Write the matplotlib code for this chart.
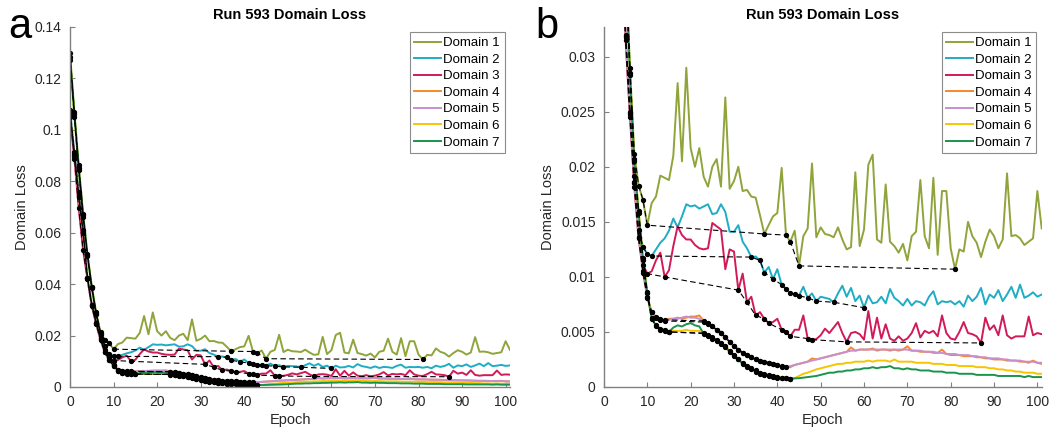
import numpy as np
import matplotlib
matplotlib.use("Agg")
import matplotlib.pyplot as plt

plt.rcParams['font.family'] = ['Liberation Sans', 'DejaVu Sans']

# epochs 0..101
epochs = np.arange(102)

domain1 = [0.1297, 0.1070, 0.0862, 0.0674, 0.0516, 0.0389, 0.0290, 0.0212, 0.0183, 0.0170,
           0.0147, 0.0167, 0.0173, 0.0192, 0.0190, 0.0188, 0.0210, 0.0276, 0.0205, 0.0290,
           0.0217, 0.0200, 0.0217, 0.0191, 0.0182, 0.0200, 0.0207, 0.0182, 0.0263, 0.0180,
           0.0187, 0.0200, 0.0178, 0.0179, 0.0173, 0.0172, 0.0156, 0.0139, 0.0147, 0.0155,
           0.0158, 0.0199, 0.0138, 0.0132, 0.0142, 0.0110, 0.0137, 0.0144, 0.0203, 0.0136,
           0.0145, 0.0139, 0.0138, 0.0136, 0.0145, 0.0134, 0.0125, 0.0127, 0.0195, 0.0128,
           0.0143, 0.0202, 0.0211, 0.0134, 0.0131, 0.0184, 0.0132, 0.0128, 0.0122, 0.0130,
           0.0115, 0.0137, 0.0141, 0.0188, 0.0137, 0.0126, 0.0190, 0.0120, 0.0178, 0.0178,
           0.0126, 0.0107, 0.0125, 0.0123, 0.0150, 0.0137, 0.0131, 0.0118, 0.0132, 0.0143,
           0.0137, 0.0126, 0.0134, 0.0194, 0.0137, 0.0138, 0.0135, 0.0129, 0.0132, 0.0135,
           0.0178, 0.0144]

domain2 = [0.1079, 0.0914, 0.0758, 0.0610, 0.0423, 0.0318, 0.0248, 0.0192, 0.0143, 0.0127,
           0.0121, 0.0119, 0.0125, 0.0131, 0.0135, 0.0142, 0.0153, 0.0145, 0.0155, 0.0166,
           0.0164, 0.0165, 0.0162, 0.0164, 0.0166, 0.0157, 0.0158, 0.0166, 0.0159, 0.0141,
           0.0141, 0.0147, 0.0132, 0.0126, 0.0118, 0.01185, 0.0115, 0.0104, 0.0109, 0.0098,
           0.0107, 0.0093, 0.0089, 0.0085, 0.00845, 0.0083, 0.0091, 0.0081, 0.0085, 0.0078,
           0.0082, 0.0081, 0.0080, 0.0077, 0.0085, 0.0092, 0.0082, 0.0090, 0.0078, 0.0083,
           0.0072, 0.0083, 0.0076, 0.0077, 0.0082, 0.0076, 0.0089, 0.0081, 0.0078, 0.0074,
           0.0080, 0.0074, 0.0078, 0.0077, 0.0074, 0.0082, 0.0087, 0.0075, 0.0078, 0.0077,
           0.0078, 0.0075, 0.0078, 0.0073, 0.0083, 0.0078, 0.0082, 0.0090, 0.0075, 0.0084,
           0.0081, 0.0088, 0.0078, 0.0084, 0.0091, 0.0081, 0.0093, 0.0081, 0.0083, 0.0086,
           0.0082, 0.0084]

domain3 = [0.1050, 0.0888, 0.0695, 0.0532, 0.0420, 0.0315, 0.0245, 0.0182, 0.0135, 0.0111,
           0.0103, 0.0105, 0.0115, 0.0122, 0.0100, 0.0106, 0.0128, 0.0146, 0.0138, 0.0134,
           0.0134, 0.0129, 0.0126, 0.0125, 0.0126, 0.0149, 0.0146, 0.0143, 0.0107, 0.0125,
           0.0123, 0.0088, 0.0103, 0.0077, 0.0082, 0.0065, 0.0068, 0.0062, 0.0058, 0.0059,
           0.0062, 0.0052, 0.0050, 0.0046, 0.0052, 0.0052, 0.0065, 0.0044, 0.0043, 0.00435,
           0.0047, 0.0053, 0.0049, 0.0054, 0.0059, 0.0049, 0.0041, 0.0049, 0.0050, 0.0048,
           0.0043, 0.0069, 0.0044, 0.0063, 0.0044, 0.0057, 0.0044, 0.0042, 0.0046, 0.0042,
           0.0044, 0.0049, 0.0058, 0.0045, 0.0051, 0.0049, 0.0051, 0.0046, 0.0065, 0.0049,
           0.0044, 0.0043, 0.0050, 0.0059, 0.0049, 0.0048, 0.0046, 0.0040, 0.0063, 0.0052,
           0.0056, 0.0047, 0.0065, 0.0047, 0.0044, 0.0046, 0.0046, 0.0046, 0.0064, 0.0047,
           0.0049, 0.0048]

domain4 = [0.1065, 0.0900, 0.0739, 0.0600, 0.0425, 0.0320, 0.0250, 0.0186, 0.0136, 0.0105,
           0.0082, 0.0068, 0.0064, 0.0062, 0.0061, 0.0062, 0.0062, 0.0063, 0.0062, 0.0063,
           0.0064, 0.0064, 0.0065, 0.0060, 0.0058, 0.0055, 0.0052, 0.0049, 0.0045, 0.0041,
           0.0037, 0.0034, 0.0031, 0.0029, 0.0027, 0.0025, 0.0024, 0.0023, 0.0022, 0.0021,
           0.0020, 0.0018, 0.0018, 0.0018, 0.0020, 0.0021, 0.0022, 0.0023, 0.0026, 0.0025,
           0.0026, 0.0027, 0.0028, 0.0029, 0.0030, 0.0031, 0.0032, 0.0036, 0.0033, 0.0034,
           0.0034, 0.0034, 0.0035, 0.0033, 0.0034, 0.0034, 0.0033, 0.0034, 0.0033, 0.0034,
           0.0037, 0.0033, 0.0033, 0.0032, 0.0032, 0.0032, 0.0031, 0.0031, 0.0034, 0.0030,
           0.0029, 0.0029, 0.0029, 0.0028, 0.0028, 0.0028, 0.0027, 0.0027, 0.0026, 0.0026,
           0.0025, 0.0025, 0.0025, 0.0024, 0.0024, 0.0024, 0.0023, 0.0023, 0.0022, 0.0024,
           0.0022, 0.0021]

domain5 = [0.1060, 0.0905, 0.0745, 0.0605, 0.0423, 0.0319, 0.0249, 0.0185, 0.0135, 0.0104,
           0.0081, 0.0068, 0.0063, 0.0061, 0.0060, 0.0061, 0.0062, 0.0062, 0.0063, 0.0064,
           0.0063, 0.0063, 0.0062, 0.0059, 0.0057, 0.0055, 0.0052, 0.0049, 0.0045, 0.0041,
           0.0037, 0.0034, 0.0031, 0.0029, 0.0027, 0.0025, 0.0024, 0.0023, 0.0022, 0.0021,
           0.0020, 0.0019, 0.00185, 0.0019, 0.0020, 0.0021, 0.0022, 0.0023, 0.0024, 0.0025,
           0.0026, 0.0027, 0.0028, 0.0029, 0.0030, 0.0031, 0.0032, 0.0033, 0.0033, 0.0034,
           0.0034, 0.0034, 0.0034, 0.0034, 0.0034, 0.0034, 0.0034, 0.0034, 0.0034, 0.0034,
           0.0034, 0.0033, 0.0033, 0.0033, 0.0032, 0.0032, 0.0032, 0.0031, 0.0031, 0.0030,
           0.0030, 0.0030, 0.0029, 0.0029, 0.0029, 0.0028, 0.0028, 0.0027, 0.0027, 0.0026,
           0.0026, 0.0026, 0.0025, 0.0025, 0.0024, 0.0024, 0.0024, 0.0023, 0.0023, 0.0023,
           0.0022, 0.0022]

domain6 = [0.1273, 0.1050, 0.0843, 0.0661, 0.0510, 0.0385, 0.0285, 0.0207, 0.0160, 0.0117,
           0.0086, 0.0063, 0.0055, 0.0052, 0.0051, 0.0050, 0.0051, 0.0051, 0.0051, 0.0052,
           0.0051, 0.0051, 0.0051, 0.0049, 0.0047, 0.0045, 0.0043, 0.0040, 0.0037, 0.0033,
           0.0029, 0.0025, 0.0022, 0.0019, 0.0017, 0.0015, 0.0013, 0.0012, 0.0011, 0.0010,
           0.0009, 0.00085, 0.0008, 0.00077, 0.0008, 0.0010, 0.0012, 0.0013, 0.00145, 0.0016,
           0.0017, 0.0018, 0.0019, 0.0020, 0.0021, 0.0021, 0.0022, 0.0022, 0.0023, 0.0023,
           0.0023, 0.0024, 0.0023, 0.0024, 0.0024, 0.0024, 0.0023, 0.0025, 0.0023, 0.0023,
           0.0023, 0.0023, 0.0022, 0.0022, 0.0022, 0.0022, 0.0021, 0.0021, 0.0021, 0.0020,
           0.0020, 0.0020, 0.0019, 0.0019, 0.0019, 0.0019, 0.0018, 0.0018, 0.0018, 0.0017,
           0.0017, 0.0016, 0.0016, 0.0015, 0.0015, 0.0014, 0.0014, 0.0013, 0.0013, 0.0013,
           0.0012, 0.0012]

domain7 = [0.1283, 0.1060, 0.0850, 0.0668, 0.0513, 0.0387, 0.0283, 0.0205, 0.0158, 0.0115,
           0.0085, 0.0062, 0.0056, 0.0053, 0.0052, 0.0050, 0.0054, 0.0056, 0.0055, 0.0057,
           0.0058, 0.0056, 0.0055, 0.00485, 0.0046, 0.0044, 0.0042, 0.0039, 0.0036, 0.0032,
           0.0028, 0.0025, 0.0021, 0.0018, 0.0016, 0.0014, 0.0012, 0.0011, 0.0010, 0.0009,
           0.00085, 0.0008, 0.00078, 0.00076, 0.00078, 0.0008, 0.00085, 0.0009, 0.00095, 0.0010,
           0.0011, 0.0012, 0.0013, 0.0013, 0.0014, 0.0014, 0.0015, 0.0015, 0.0016, 0.0016,
           0.0017, 0.0017, 0.0018, 0.0017, 0.0018, 0.0018, 0.0019, 0.0017, 0.0017, 0.0016,
           0.0017, 0.0016, 0.0016, 0.0015, 0.0015, 0.0015, 0.0014, 0.0014, 0.0014, 0.0013,
           0.0013, 0.0013, 0.0012, 0.0012, 0.0012, 0.0012, 0.0011, 0.0011, 0.0011, 0.0011,
           0.0011, 0.0010, 0.0010, 0.0010, 0.0010, 0.0010, 0.0010, 0.0009, 0.0010, 0.0009,
           0.0009, 0.0009]

series = [domain1, domain2, domain3, domain4, domain5, domain6, domain7]
labels = ["Domain 1", "Domain 2", "Domain 3", "Domain 4", "Domain 5", "Domain 6", "Domain 7"]
colors = ["#8fa43a", "#1eadc4", "#d2195a", "#f58a2a", "#c68fd1", "#f7c500", "#1a944b"]


def draw(ax, ylim, yticks, yticklabels, letter, letter_x):
    for vals, lab, col in zip(series, labels, colors):
        ax.plot(epochs, vals, color=col, lw=1.4, label=lab)
    # running minimum record points
    for vals in series:
        v = np.array(vals)
        run = np.minimum.accumulate(v)
        rec = np.r_[True, v[1:] < run[:-1]]
        ax.plot(epochs[rec], v[rec], color="k", ls=(0, (5, 3)), lw=0.8,
                marker="o", ms=2.8, mfc="k", mec="k")
    ax.set_xlim(0, 101)
    ax.set_ylim(*ylim)
    ax.set_xticks(range(0, 101, 10))
    ax.set_yticks(yticks)
    ax.set_yticklabels(yticklabels)
    ax.spines["top"].set_visible(False)
    ax.spines["right"].set_visible(False)
    for s in ["left", "bottom"]:
        ax.spines[s].set_color("#808080")
        ax.spines[s].set_linewidth(1.0)
    ax.tick_params(direction="in", length=3.5, width=0.8, color="#808080",
                   labelcolor="#262626", labelsize=10, pad=6)
    ax.set_xlabel("Epoch", fontsize=10.5, color="#262626", labelpad=3)
    ax.set_ylabel("Domain Loss", fontsize=10.5, color="#262626", labelpad=4)
    ax.set_title("Run 593 Domain Loss", fontsize=10.5, fontweight="bold", pad=6)
    leg = ax.legend(loc="upper right", fontsize=9.5, handlelength=2.0,
                    handletextpad=0.2, labelspacing=0.33, borderpad=0.35,
                    borderaxespad=0.4, fancybox=False, framealpha=1)
    leg.get_frame().set_edgecolor("#8c8c8c")
    leg.get_frame().set_linewidth(0.8)
    ax.figure.text(letter_x, 0.912, letter, fontsize=30, ha="left", va="baseline")


fig = plt.figure(figsize=(10.5, 4.34), dpi=100)
ax1 = fig.add_axes([0.0667, 0.1083, 0.4190, 0.8295])
ax2 = fig.add_axes([0.5752, 0.1083, 0.4169, 0.8295])

draw(ax1, (0, 0.14), [0, 0.02, 0.04, 0.06, 0.08, 0.1, 0.12, 0.14],
     ["0", "0.02", "0.04", "0.06", "0.08", "0.1", "0.12", "0.14"], "a", 0.008)
draw(ax2, (0, 0.0327), [0, 0.005, 0.01, 0.015, 0.02, 0.025, 0.03],
     ["0", "0.005", "0.01", "0.015", "0.02", "0.025", "0.03"], "b", 0.51)

fig.savefig("out.png", dpi=100)
